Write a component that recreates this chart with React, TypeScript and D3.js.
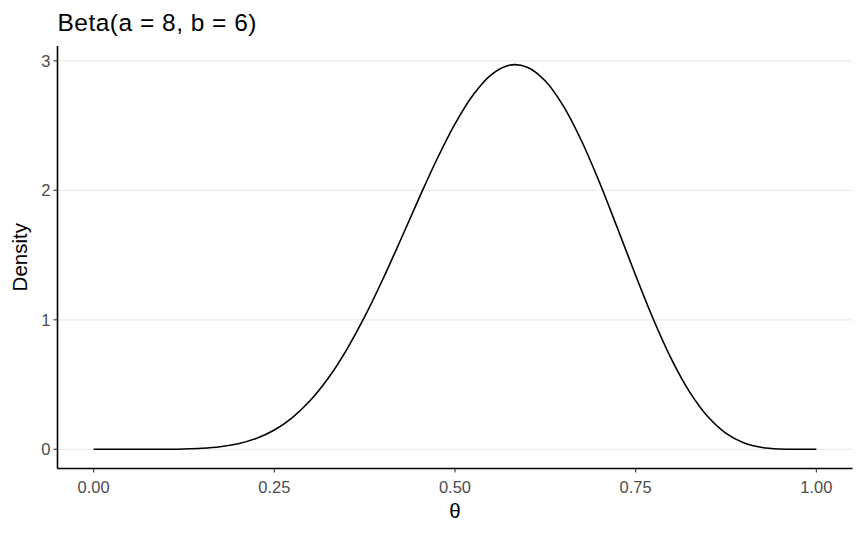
import React from "react";
import * as d3 from "d3";

const thetaValues = [
  0, 0.025, 0.05, 0.075, 0.1, 0.125, 0.15, 0.175, 0.2, 0.225, 0.25, 0.275, 0.3, 0.325, 0.35, 0.375, 0.4,
  0.425, 0.45, 0.475, 0.5, 0.525, 0.55, 0.575, 0.6, 0.625, 0.65, 0.675, 0.7, 0.725, 0.75, 0.775, 0.8,
  0.825, 0.85, 0.875, 0.9, 0.925, 0.95, 0.975, 1,
];
const densityValues = [
  0, 0, 0.000006, 0.00009, 0.0006, 0.0025, 0.0078, 0.0198, 0.0432, 0.084, 0.1491, 0.2453, 0.3785,
  0.5526, 0.7686, 1.0239, 1.3117, 1.6208, 1.9363, 2.2404, 2.5137, 2.7369, 2.8926, 2.9668, 2.9514,
  2.8444, 2.6509, 2.3835, 2.0605, 1.7049, 1.3421, 0.997, 0.691, 0.4396, 0.2507, 0.1234, 0.0493,
  0.0142, 0.0022, 0.00008, 0,
];
const xTicks = [0, 0.25, 0.5, 0.75, 1];
const xTickLabels = ["0.00", "0.25", "0.50", "0.75", "1.00"];
const yTicks = [0, 1, 2, 3];
const yTickLabels = ["0", "1", "2", "3"];
const titleText = "Beta(a = 8, b = 6)";
const xTitle = "θ";
const yTitle = "Density";

const W = 864;
const H = 533;
const panel = { left: 57.5, right: 852.5, top: 46, bottom: 468.5 };
const FONT = "'Liberation Sans', Arial, Helvetica, sans-serif";

export default function App() {
  const x = d3.scaleLinear().domain([-0.05, 1.05]).range([panel.left, panel.right]);
  const yMax = d3.max(densityValues) as number;
  const y = d3
    .scaleLinear()
    .domain([-0.05 * yMax, yMax * 1.05])
    .range([panel.bottom, panel.top]);
  const pts = thetaValues.map((t, i) => [t, densityValues[i]] as [number, number]);
  const line = d3
    .line<[number, number]>()
    .x((d) => x(d[0]))
    .y((d) => y(d[1]))
    .curve(d3.curveCatmullRom.alpha(0.5));

  return (
    <>
      <style>{"body{margin:0}"}</style>
      <svg width={W} height={H} style={{ display: "block", background: "#fff" }} fontFamily={FONT}>
        {yTicks.map((t) => (
          <line key={"g" + t} x1={panel.left} x2={panel.right} y1={y(t)} y2={y(t)} stroke="#ebebeb" strokeWidth={1.2} />
        ))}
        <path d={line(pts) || ""} fill="none" stroke="#000" strokeWidth={1.6} />
        <line x1={panel.left} x2={panel.left} y1={panel.top} y2={panel.bottom} stroke="#000" strokeWidth={1.6} />
        <line x1={panel.left} x2={panel.right} y1={panel.bottom} y2={panel.bottom} stroke="#000" strokeWidth={1.6} />
        {yTicks.map((t, i) => (
          <g key={"y" + t}>
            <line x1={panel.left - 4} x2={panel.left} y1={y(t)} y2={y(t)} stroke="#333" strokeWidth={1.1} />
            <text x={panel.left - 7} y={y(t)} dy="0.36em" textAnchor="end" fontSize={16.5} fill="#4d4d4d">
              {yTickLabels[i]}
            </text>
          </g>
        ))}
        {xTicks.map((t, i) => (
          <g key={"x" + t}>
            <line x1={x(t)} x2={x(t)} y1={panel.bottom} y2={panel.bottom + 4} stroke="#333" strokeWidth={1.1} />
            <text x={x(t)} y={panel.bottom + 24} textAnchor="middle" fontSize={16.5} fill="#4d4d4d">
              {xTickLabels[i]}
            </text>
          </g>
        ))}
        <text x={(panel.left + panel.right) / 2} y={518} textAnchor="middle" fontSize={20.5} fill="#000">
          {xTitle}
        </text>
        <text
          transform={`translate(27,${(panel.top + panel.bottom) / 2}) rotate(-90)`}
          textAnchor="middle"
          fontSize={20.5}
          fill="#000"
        >
          {yTitle}
        </text>
        <text x={panel.left} y={30.5} fontSize={24.5} fill="#000" textLength={199} lengthAdjust="spacing">
          {titleText}
        </text>
      </svg>
    </>
  );
}
